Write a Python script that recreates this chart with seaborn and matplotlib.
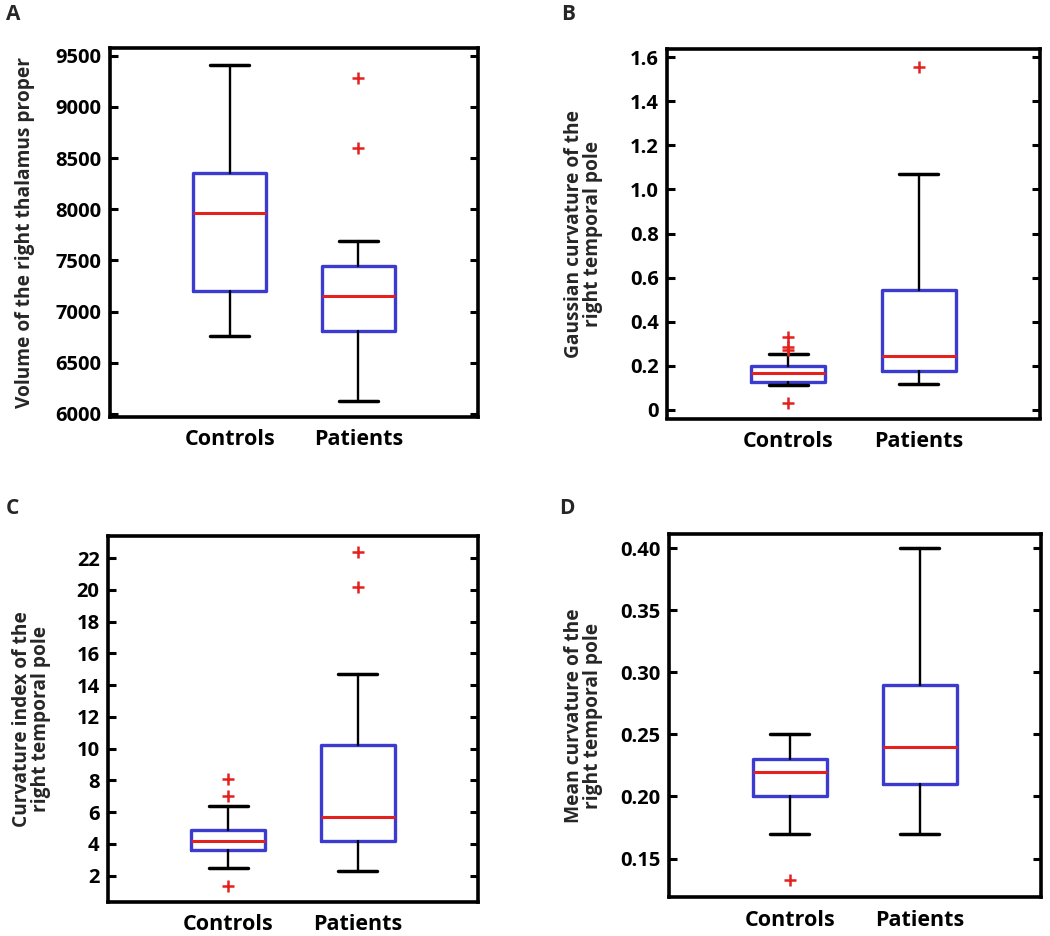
import numpy as np
import matplotlib
matplotlib.use("Agg")
import matplotlib.pyplot as plt
import seaborn as sns

# groups on the x axis
groups = ["Controls", "Patients"]

# A: volume of the right thalamus proper
vol_q1 = [7200, 6810]
vol_med = [7965, 7155]
vol_q3 = [8350, 7450]
vol_lo = [6760, 6130]
vol_hi = [9410, 7690]
vol_out = [[], [9285, 8600]]

# B: gaussian curvature of the right temporal pole
gc_q1 = [0.128, 0.177]
gc_med = [0.166, 0.245]
gc_q3 = [0.197, 0.542]
gc_lo = [0.112, 0.118]
gc_hi = [0.252, 1.07]
gc_out = [[0.332, 0.285, 0.272, 0.033], [1.555]]

# C: curvature index of the right temporal pole
ci_q1 = [3.62, 4.2]
ci_med = [4.2, 5.72]
ci_q3 = [4.88, 10.24]
ci_lo = [2.5, 2.3]
ci_hi = [6.41, 14.71]
ci_out = [[8.07, 7.04, 1.35], [22.38, 20.17]]

# D: mean curvature of the right temporal pole
mc_q1 = [0.20, 0.21]
mc_med = [0.22, 0.24]
mc_q3 = [0.23, 0.29]
mc_lo = [0.17, 0.17]
mc_hi = [0.25, 0.40]
mc_out = [[0.133], []]

sns.set_theme(style="white")
plt.rcParams['font.family'] = ['Open Sans', 'DejaVu Sans']
plt.rcParams['font.weight'] = 'bold'

BLUE = '#3b3bd0'
RED = '#e3211f'

fig = plt.figure(figsize=(10.5, 9.36), dpi=100)
W, H = 1050, 936


def add_axes(l, r, t, b):
    return fig.add_axes([l / W, 1 - b / H, (r - l) / W, (b - t) / H])


def panel(ax, q1, med, q3, lo, hi, out, ylabel, ylim, yticks, yfmt, labx, letter, letpos):
    stats = []
    for i in range(len(groups)):
        stats.append(dict(q1=q1[i], med=med[i], q3=q3[i], whislo=lo[i], whishi=hi[i],
                          fliers=[], label=groups[i]))
    ax.bxp(stats, positions=[1, 2], widths=0.57, capwidths=0.3, showfliers=False,
           boxprops=dict(color=BLUE, linewidth=2.4),
           medianprops=dict(color=RED, linewidth=2.2),
           whiskerprops=dict(color='black', linewidth=1.7, linestyle='-'),
           capprops=dict(color='black', linewidth=2.5))
    ox, oy = [], []
    for i, vals in enumerate(out):
        ox += [i + 1] * len(vals)
        oy += vals
    if ox:
        sns.scatterplot(x=ox, y=oy, marker='+', color=RED, s=70, linewidth=1.8, ax=ax, zorder=5)
    ax.set_xlim(0.07, 2.93)
    ax.set_ylim(*ylim)
    ax.set_yticks(yticks)
    ax.set_yticklabels([yfmt(v) for v in yticks])
    ax.set_xticks([1, 2])
    ax.set_xticklabels(groups)
    for s in ax.spines.values():
        s.set_visible(True)
        s.set_color('black')
        s.set_linewidth(2.6)
    ax.tick_params(axis='y', direction='in', left=True, right=True, length=6, width=2.2,
                   labelsize=14.5, pad=6, colors='black')
    ax.tick_params(axis='x', length=0, labelsize=15.5, pad=9, colors='black')
    for t in ax.get_xticklabels() + ax.get_yticklabels():
        t.set_fontweight('bold')
    ax.set_ylabel(ylabel, fontsize=13.8, fontweight='bold', linespacing=0.92)
    ax.yaxis.set_label_coords(labx, 0.5)
    fig.text(letpos[0] / W, 1 - letpos[1] / H, letter, fontsize=15, fontweight='bold',
             ha='left', va='center')


axA = add_axes(110, 478, 48.3, 416.7)
panel(axA, vol_q1, vol_med, vol_q3, vol_lo, vol_hi, vol_out,
      'Volume of the right thalamus proper', (5973, 9572), np.arange(6000, 9501, 500),
      lambda v: f'{v:.0f}', -0.205, 'A', (6, 15))

axB = add_axes(667, 1040, 49.3, 418.5)
panel(axB, gc_q1, gc_med, gc_q3, gc_lo, gc_hi, gc_out,
      'Gaussian curvature of the\nright temporal pole', (-0.039, 1.636), np.arange(0, 1.61, 0.2),
      lambda v: '0' if abs(v) < 1e-9 else f'{v:.1f}', -0.172, 'B', (561, 15))

axC = add_axes(108, 478, 535.7, 901.7)
panel(axC, ci_q1, ci_med, ci_q3, ci_lo, ci_hi, ci_out,
      'Curvature index of the\nright temporal pole', (0.36, 23.42), np.arange(2, 23, 2),
      lambda v: f'{v:.0f}', -0.155, 'C', (6, 509))

axD = add_axes(669, 1040.7, 534, 897)
panel(axD, mc_q1, mc_med, mc_q3, mc_lo, mc_hi, mc_out,
      'Mean curvature of the\nright temporal pole', (0.119, 0.4115), np.arange(0.15, 0.401, 0.05),
      lambda v: f'{v:.2f}', -0.178, 'D', (559, 509))

fig.savefig('out.png', dpi=100)
